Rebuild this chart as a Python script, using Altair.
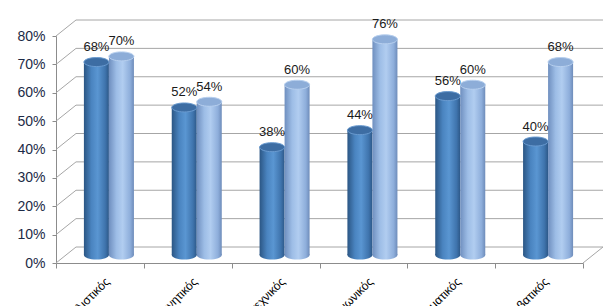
import altair as alt
import pandas as pd

categories = ["Ρεαλιστικός", "Ερευνητικός", "Καλλιτεχνικός", "Κοινωνικός", "Επιχειρηματικός", "Συμβατικός"]
series_names = ["Σειρά 1", "Σειρά 2"]
series_1 = [0.68, 0.52, 0.38, 0.44, 0.56, 0.40]
series_2 = [0.70, 0.54, 0.60, 0.76, 0.60, 0.68]
y_ticks = [0.0, 0.1, 0.2, 0.3, 0.4, 0.5, 0.6, 0.7, 0.8]

rows = []
for c, a, b in zip(categories, series_1, series_2):
    rows.append({"category": c, "series": series_names[0], "value": a})
    rows.append({"category": c, "series": series_names[1], "value": b})
bars_df = pd.DataFrame(rows)
grid_df = pd.DataFrame({"v": y_ticks})
cat_df = pd.DataFrame({"category": categories})

W, H = 527, 227
DX, DY = 20, -16          # depth of back wall
FONT = "Liberation Sans"
GRID = "#a6a6a6"

yscale = alt.Scale(domain=[0, 0.8])

# back-wall horizontal gridlines
back = alt.Chart(grid_df).mark_rule(color=GRID, strokeWidth=1, yOffset=DY, y2Offset=DY).encode(
    y=alt.Y("v:Q", scale=yscale, axis=None),
    x=alt.value(DX), x2=alt.value(W + DX),
)
# side-wall diagonals (carries y axis)
diag = alt.Chart(grid_df).mark_rule(color=GRID, strokeWidth=1, y2Offset=DY).encode(
    y=alt.Y("v:Q", scale=yscale, axis=alt.Axis(
        orient="left", values=y_ticks, format=".0%", title=None, grid=False,
        labelFont=FONT, labelFontSize=14, labelColor="#1c2a46",
        domainColor="#8c8c8c", tickColor="#8c8c8c", tickSize=4, labelPadding=7)),
    y2="v:Q",
    x=alt.value(0), x2=alt.value(DX),
)
# right floor diagonal
floor_r = alt.Chart(pd.DataFrame({"v": [0.0]})).mark_rule(color=GRID, strokeWidth=1, y2Offset=DY).encode(
    y=alt.Y("v:Q", scale=yscale, axis=None), y2="v:Q",
    x=alt.value(W), x2=alt.value(W + DX),
)

grad_dark = alt.Gradient(gradient="linear", x1=0, x2=1, y1=0, y2=0, stops=[
    alt.GradientStop(offset=0, color="#2b5684"),
    alt.GradientStop(offset=0.3, color="#4a84c0"),
    alt.GradientStop(offset=0.55, color="#5a96d2"),
    alt.GradientStop(offset=0.85, color="#3f74ad"),
    alt.GradientStop(offset=1, color="#2d5888"),
])
grad_light = alt.Gradient(gradient="linear", x1=0, x2=1, y1=0, y2=0, stops=[
    alt.GradientStop(offset=0, color="#6f8fbf"),
    alt.GradientStop(offset=0.3, color="#9dbde6"),
    alt.GradientStop(offset=0.55, color="#b1cdf0"),
    alt.GradientStop(offset=0.85, color="#8eaedb"),
    alt.GradientStop(offset=1, color="#6e8cba"),
])
is_a = alt.datum.series == series_names[0]
fill_cond = alt.condition(is_a, alt.value(grad_dark), alt.value(grad_light))

bx = alt.X("category:N", sort=categories, axis=None,
           scale=alt.Scale(range=[9, W + 9], paddingInner=0, paddingOuter=0))
bxo = alt.XOffset("series:N", sort=series_names,
                  scale=alt.Scale(paddingInner=0, paddingOuter=0.756))
bscale = alt.Scale(domain=[0, 0.8], range=[H - 8, -8])
by = alt.Y("value:Q", axis=None, scale=bscale)

ELL = "M-1,0A1,0.36,0,1,1,1,0A1,0.36,0,1,1,-1,0Z"

base = alt.Chart(bars_df)
bottoms = base.mark_point(shape=ELL, size=625, filled=True, opacity=1, strokeWidth=0).encode(
    x=bx, xOffset=bxo, y=alt.Y("zero:Q", axis=None, scale=bscale),
    fill=fill_cond,
).transform_calculate(zero="0")
bodies = base.mark_bar(strokeWidth=0).encode(
    x=bx, xOffset=bxo, y=by, y2=alt.datum(0), fill=fill_cond,
)
tops = base.mark_point(shape=ELL, size=625, filled=True, opacity=1, strokeWidth=1).encode(
    x=bx, xOffset=bxo, y=by,
    fill=alt.condition(is_a, alt.value("#3d6da3"), alt.value("#8dadd8")),
    stroke=alt.condition(is_a, alt.value("#6a9bd0"), alt.value("#b8d0ef")),
)
labels = base.mark_text(dy=-15, font=FONT, fontSize=13, color="#1a1a1a").encode(
    x=bx, xOffset=bxo, y=by, text=alt.Text("value:Q", format=".0%"),
)

xaxis = alt.Chart(cat_df).mark_rule(opacity=0).encode(
    x=alt.X("category:N", sort=categories,
            scale=alt.Scale(paddingInner=0, paddingOuter=0),
            axis=alt.Axis(orient="bottom", title=None, labelAngle=-45, labelAlign="right",
                          labelBaseline="middle", labelPadding=11, labelOffset=7,
                          labelFont=FONT, labelFontSize=12, labelColor="#000000",
                          domainColor="#8c8c8c", tickColor="#8c8c8c", tickSize=5,
                          tickBand="extent", grid=False)),
)

chart = alt.layer(back, diag, floor_r, bottoms, bodies, tops, labels, xaxis).resolve_scale(
    x="independent", y="independent"
).properties(
    width=W, height=H,
    autosize=alt.AutoSizeParams(type="none"),
    padding={"left": 56, "top": 36, "right": 27, "bottom": 43},
    background="white",
).configure_view(stroke=None)

chart.save("out.html", embed_options={"renderer": "svg", "actions": False})
